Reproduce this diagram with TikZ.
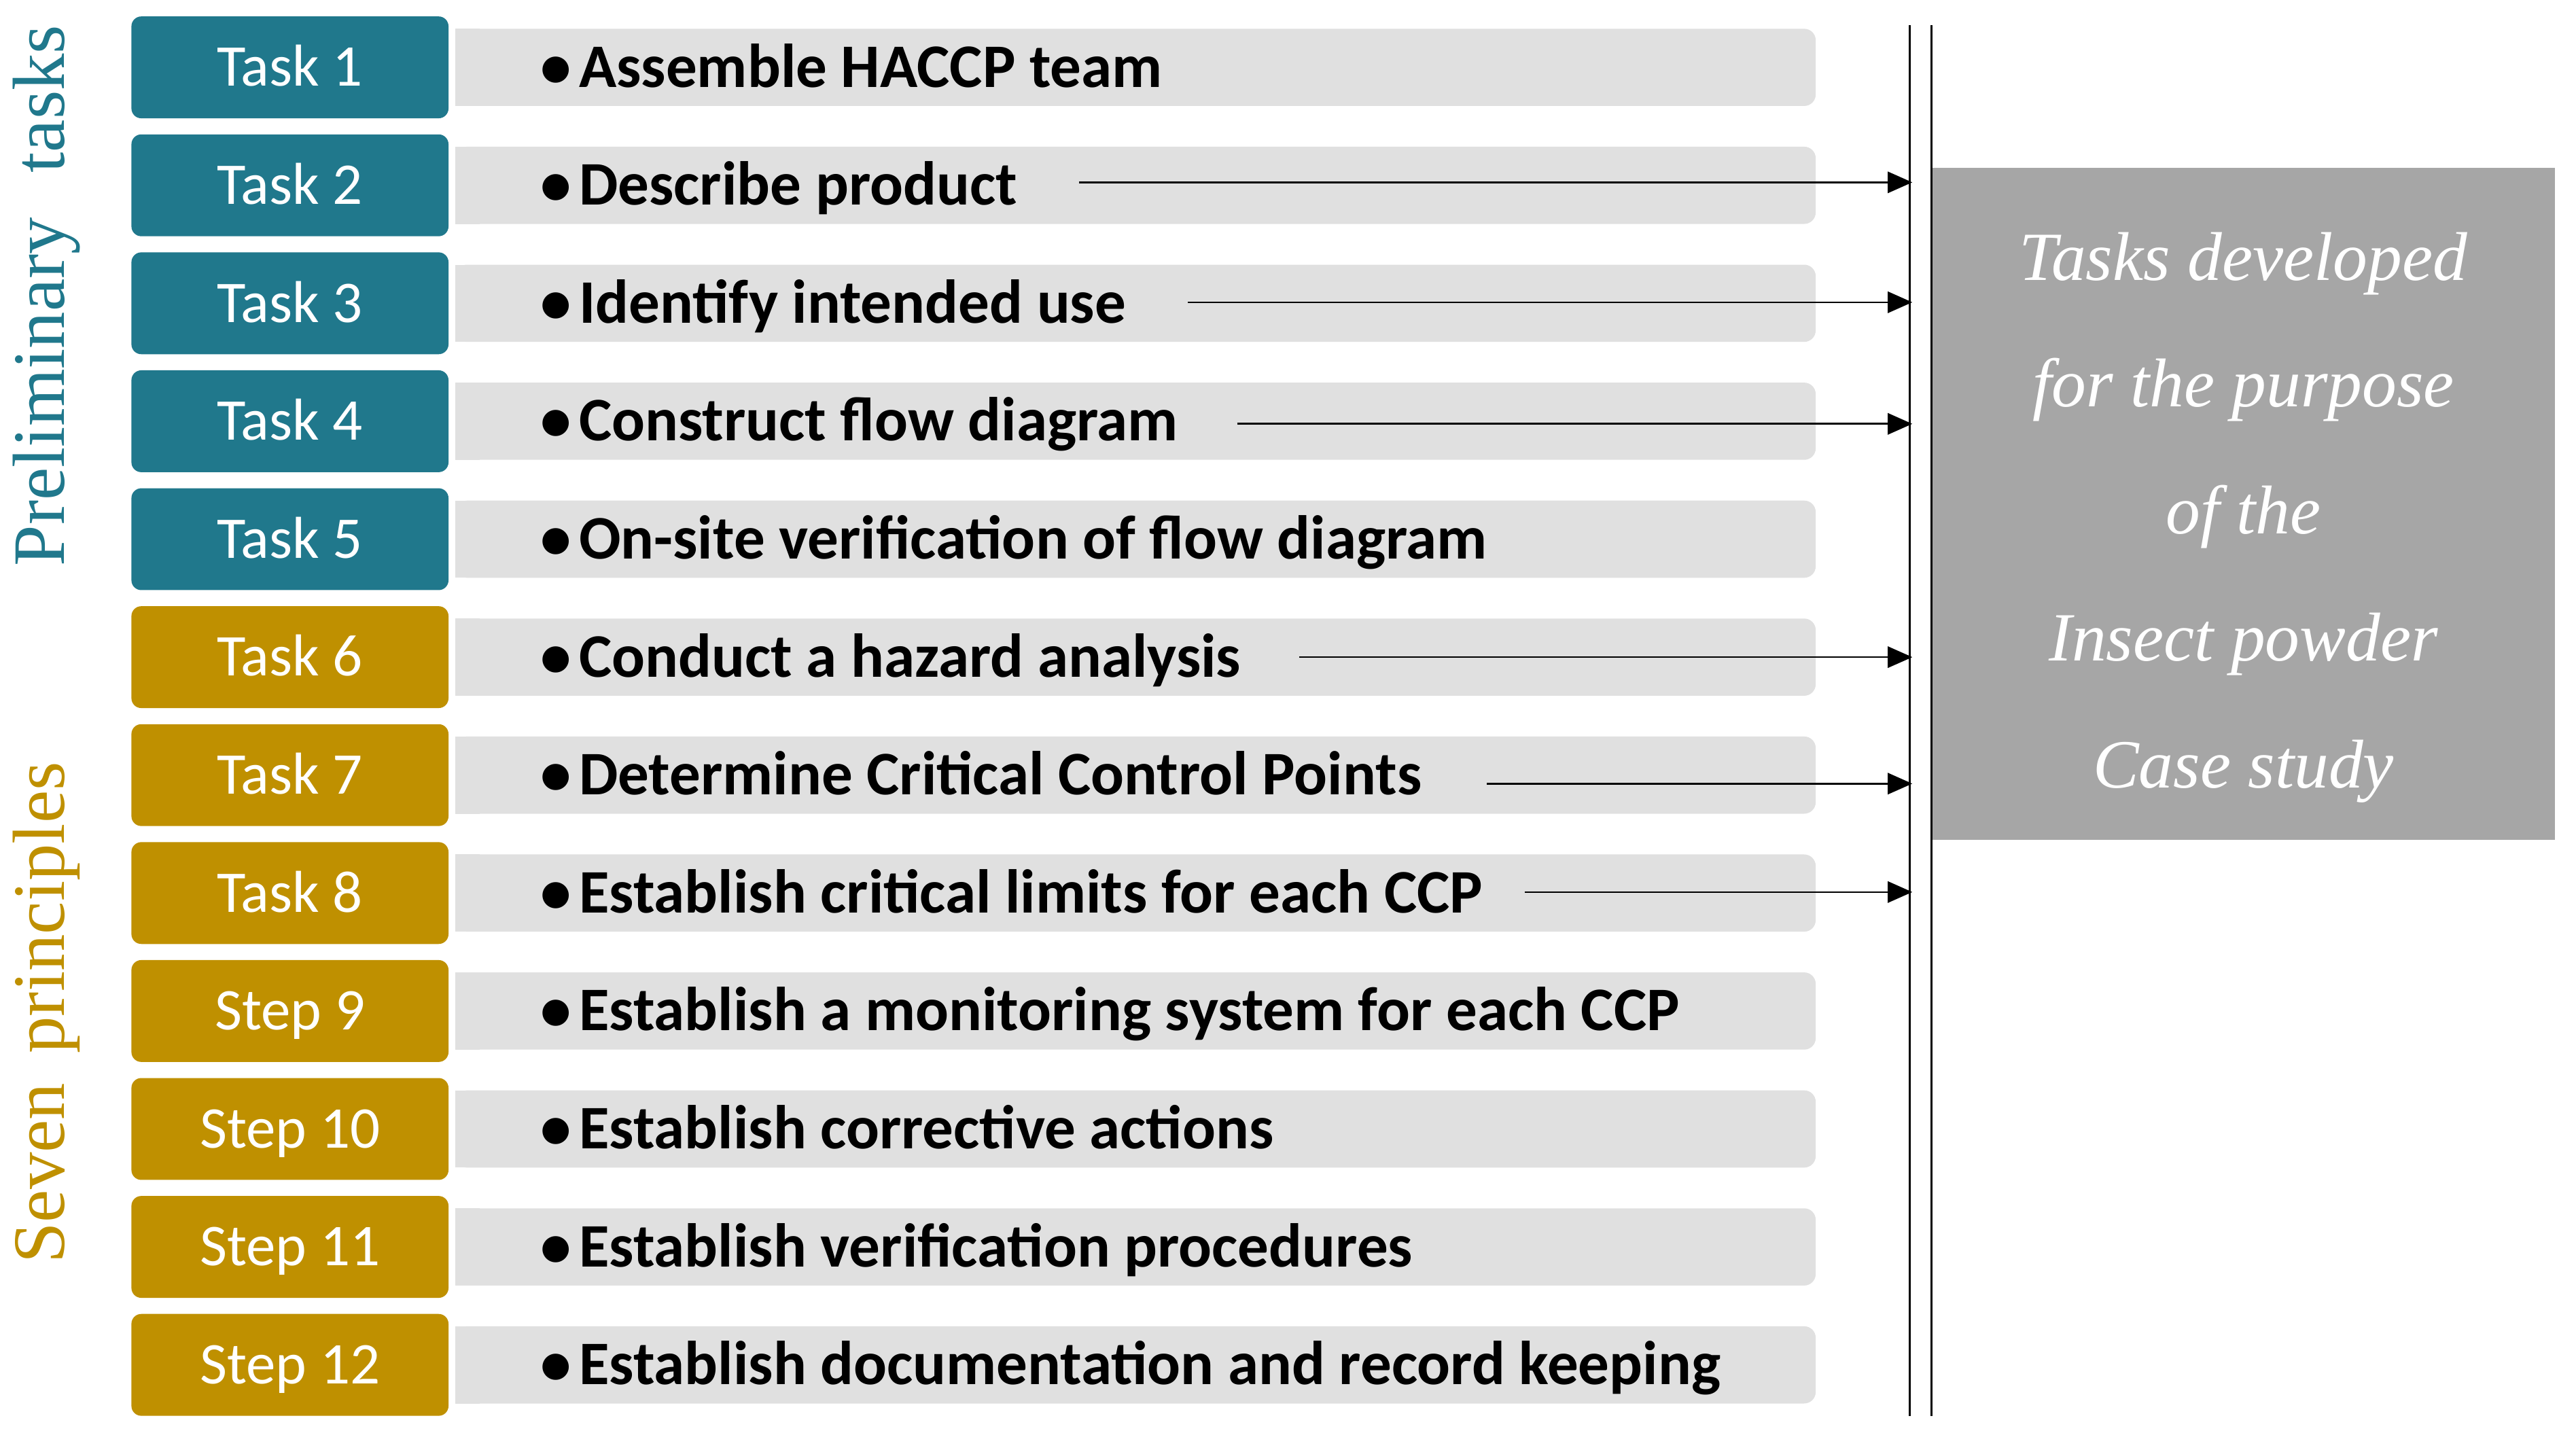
\documentclass[tikz,border=0pt]{standalone}
\usepackage{fontspec}
\setmainfont{Carlito}
\newfontfamily\lserif{Liberation Serif}
\usetikzlibrary{arrows.meta}
\definecolor{tealbox}{HTML}{20788C}
\definecolor{goldbox}{HTML}{BF9000}
\definecolor{barcol}{HTML}{E0E0E0}
\definecolor{boxgray}{HTML}{A6A6A6}
\begin{document}
\begin{tikzpicture}[x=1pt,y=-1pt,
  taskbox/.style={rounded corners=6pt, minimum width=193pt, minimum height=62pt, text=white,
    font=\fontsize{36}{40}\selectfont, text height=23pt, text depth=0pt, inner sep=0pt},
  prelim/.style={taskbox, fill=tealbox},
  princ/.style={taskbox, fill=goldbox},
  barbox/.style={fill=barcol, rounded corners=7pt, minimum width=828pt, minimum height=47pt, inner sep=0pt, anchor=west},
  bartext/.style={font=\bfseries\fontsize{37.7}{40}\selectfont, anchor=base west, inner sep=0pt},
  arr/.style={-{Triangle[length=15pt,width=13pt]}, line width=1.1pt},
  vline/.style={line width=1.3pt},
  sidelab/.style={rotate=90, anchor=base, inner sep=0pt, font=\lserif\fontsize{45}{50}\selectfont},
]
\useasboundingbox (0,0) rectangle (1568,871);

\foreach \i/\lab/\sty/\txt in {
  1/Task 1/prelim/Assemble HACCP team,
  2/Task 2/prelim/Describe product,
  3/Task 3/prelim/Identify intended use,
  4/Task 4/prelim/Construct flow diagram,
  5/Task 5/prelim/On-site verification of flow diagram,
  6/Task 6/princ/Conduct a hazard analysis,
  7/Task 7/princ/Determine Critical Control Points,
  8/Task 8/princ/Establish critical limits for each CCP,
  9/Step 9/princ/Establish a monitoring system for each CCP,
  10/Step 10/princ/Establish corrective actions,
  11/Step 11/princ/Establish verification procedures,
  12/Step 12/princ/Establish documentation and record keeping}{
  \pgfmathsetmacro\y{41+71.8*(\i-1)}
  \node[barbox] (bar\i) at (277,\y) {};
  \fill[barcol] (277,\y-23.5) rectangle (292,\y+23.5);
  \node[\sty] (t\i) at (176.5,\y) {\lab};
  \node[bartext] (d\i) at (329,\y+12) {•\hspace{0.12em}\txt};
}

% vertical lines
\coordinate (l1t) at (1162.5,15.5); \coordinate (l1b) at (1162.5,862);
\coordinate (l2t) at (1175.5,15.5); \coordinate (l2b) at (1175.5,862);
\draw[vline] (l1t) -- (l1b);
\draw[vline] (l2t) -- (l2b);

% arrows
\foreach \k/\xs/\ya in {2/657/111, 3/723/184, 4/753/258, 6/791/400, 7/905/477, 8/928/543}{
  \coordinate (a\k s) at (\xs,\ya);
  \coordinate (a\k e) at (1164,\ya);
  \draw[arr] (a\k s) -- (a\k e);
}

% case study box
\node[fill=boxgray, minimum width=379pt, minimum height=409pt, inner sep=0pt, anchor=north west] (case) at (1176,102) {};
\node[text=white, align=center, inner sep=0pt, font=\lserif\itshape\fontsize{42}{77.3}\selectfont] (casetxt) at (1365.5,315)
  {Tasks developed\\for the purpose\\of the\\Insect powder\\Case study};

% side labels
\node[sidelab, text=tealbox] (plab) at (39,180) {Preliminary\hspace{0.6em}tasks};
\node[sidelab, text=goldbox] (slab) at (39,616.5) {Seven\hspace{0.4em}principles};
\end{tikzpicture}
\end{document}
